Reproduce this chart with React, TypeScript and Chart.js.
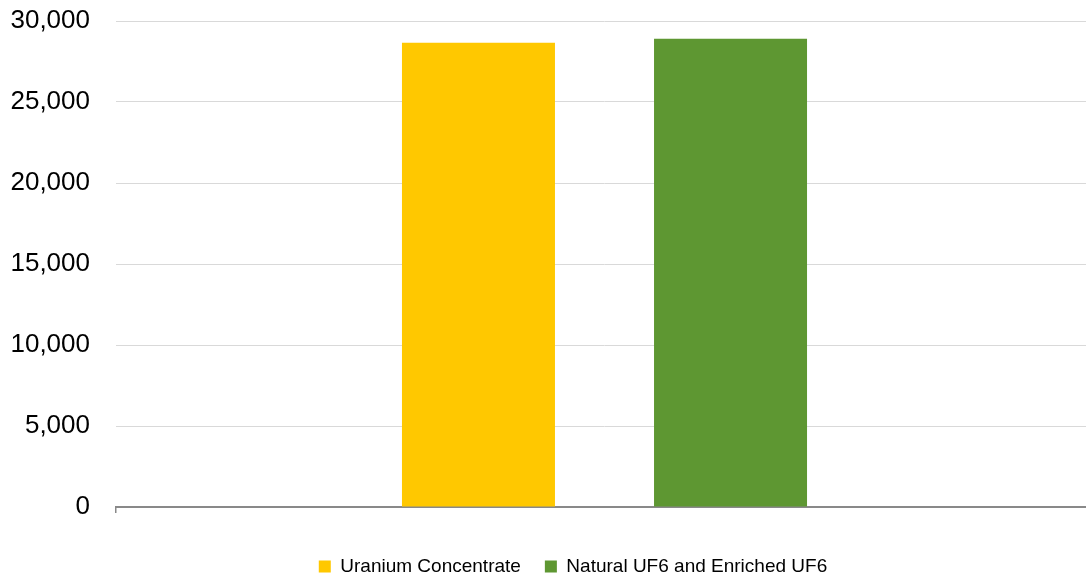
import React, { useEffect, useRef } from "react";
import { Chart, registerables } from "chart.js";

Chart.register(...registerables);

const categories = [""];
const seriesNames = ["Uranium Concentrate", "Natural UF6 and Enriched UF6"];
const uraniumConcentrate = [28650];
const naturalEnrichedUF6 = [28900];
const seriesColors = ["#FFC800", "#5E9732"];
const yTickValues = [0, 5000, 10000, 15000, 20000, 25000, 30000];

const FONT = "'Liberation Sans', Arial, Helvetica, sans-serif";
const CANVAS_W = 1093;

const legendShift = {
  id: "legendShift",
  afterLayout(chart: any) {
    const lg = chart.legend;
    if (!lg) return;
    const dx = 573 - CANVAS_W / 2;
    const dy = 6;
    lg.left += dx;
    lg.right += dx;
    lg.top += dy;
    lg.bottom += dy;
  },
};

export default function App() {
  const ref = useRef<HTMLCanvasElement | null>(null);

  useEffect(() => {
    if (!ref.current) return;
    const chart = new Chart(ref.current, {
      type: "bar",
      data: {
        labels: categories,
        datasets: [
          {
            label: seriesNames[0],
            data: uraniumConcentrate,
            backgroundColor: seriesColors[0],
            borderWidth: 0,
          },
          {
            label: seriesNames[1],
            data: naturalEnrichedUF6,
            backgroundColor: seriesColors[1],
            borderWidth: 0,
          },
        ],
      },
      options: {
        responsive: false,
        animation: false,
        categoryPercentage: 0.516,
        barPercentage: 0.607,
        layout: { padding: { top: 21, right: 0, left: 0, bottom: 0 } },
        plugins: {
          tooltip: { enabled: false },
          legend: {
            position: "bottom",
            labels: {
              boxWidth: 12,
              boxHeight: 12,
              padding: 24,
              color: "#000",
              font: { family: FONT, size: 19 },
            },
          },
        },
        scales: {
          x: {
            offset: true,
            ticks: { display: false },
            grid: {
              display: true,
              drawOnChartArea: false,
              drawTicks: true,
              tickLength: 6,
              color: "#898989",
              lineWidth: 1.5,
              offset: true,
            },
            border: { display: true, color: "#898989", width: 2 },
            afterFit: (scale: any) => {
              scale.height = 20;
            },
          },
          y: {
            min: 0,
            max: 30000,
            afterBuildTicks: (scale: any) => {
              scale.ticks = yTickValues.map((v) => ({ value: v }));
            },
            ticks: {
              padding: 0,
              color: "#000",
              font: { family: FONT, size: 26 },
              callback: (v: any) => Number(v).toLocaleString("en-US"),
            },
            grid: {
              color: "#d9d9d9",
              lineWidth: 1,
              drawTicks: true,
              tickLength: 26,
              tickColor: "rgba(0,0,0,0)",
            },
            border: { display: false },
            afterFit: (scale: any) => {
              scale.width = 116;
            },
          },
        },
      },
      plugins: [legendShift],
    });
    return () => chart.destroy();
  }, []);

  return (
    <div style={{ position: "absolute", left: 0, top: 0, width: 1086, height: 580, overflow: "hidden", background: "#fff" }}>
      <canvas ref={ref} width={CANVAS_W} height={580} style={{ display: "block" }} />
    </div>
  );
}
